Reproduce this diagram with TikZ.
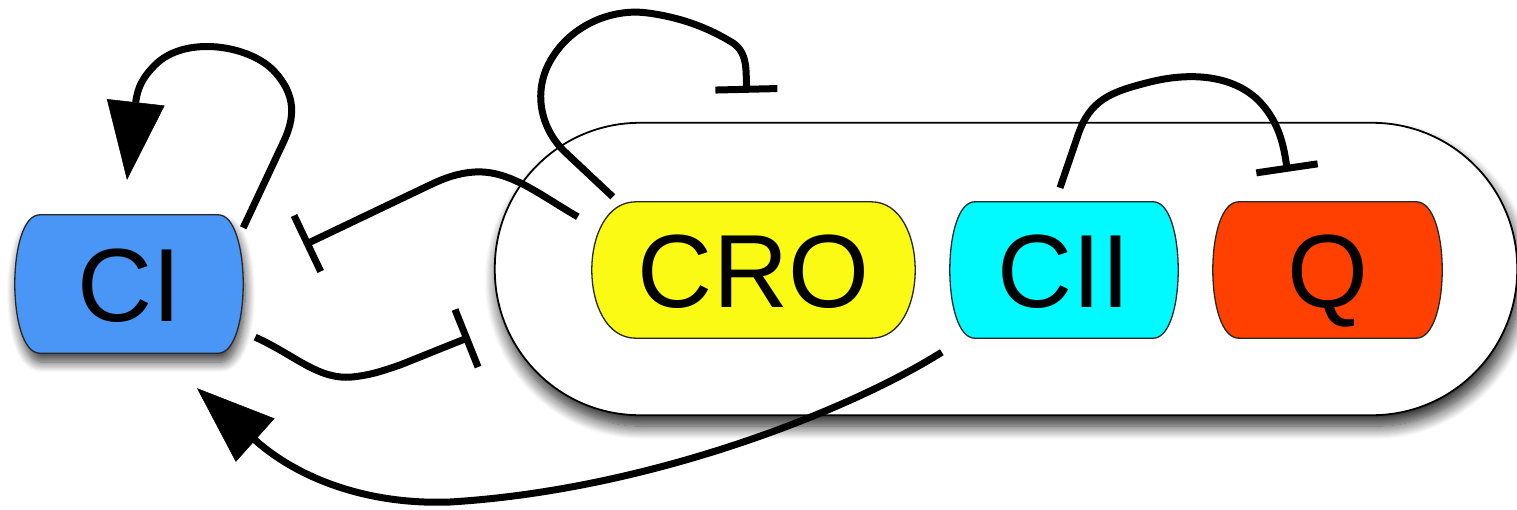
\documentclass[tikz,border=0pt]{standalone}
\usepackage{fontspec}
\setmainfont{Liberation Sans}
\usetikzlibrary{arrows.meta,shadows.blur}

\definecolor{ciblue}{RGB}{74,150,246}
\definecolor{croyellow}{RGB}{250,250,20}
\definecolor{ciicyan}{RGB}{0,250,255}
\definecolor{qred}{RGB}{255,64,0}
\definecolor{edgegray}{RGB}{40,40,40}

\pgfdeclarelayer{bg}
\pgfsetlayers{bg,main}

% Outline of a protein box: flat top and bottom, bulging sides.
% #1 node name, #2 corner inset, #3 path options
\newcommand\capsule[3]{%
  \path[#3] ([xshift=#2]#1.north west) -- ([xshift=-#2]#1.north east)
    .. controls ([xshift=#2/3]#1.north east) and ([xshift=#2/3]#1.south east) .. ([xshift=-#2]#1.south east)
    -- ([xshift=#2]#1.south west)
    .. controls ([xshift=-#2/3]#1.south west) and ([xshift=-#2/3]#1.north west) .. cycle;}

\tikzset{
  gene/.style={inner sep=0pt, minimum height=136pt, text height=74.5pt, text depth=0pt,
    font=\fontsize{104pt}{110pt}\selectfont},
  boxedge/.style={draw=edgegray, line width=1.3pt},
  act/.style={draw=black, line width=7pt,
    -{Triangle[length=78pt, width=58pt, line width=0.5pt, fill=black, color=black]}},
  inh/.style={draw=black, line width=7pt, -{Bar[width=62pt]}},
}

\begin{document}
\begin{tikzpicture}[x=1pt, y=-1pt]
\useasboundingbox (0,0) rectangle (1517,509);

% nodes
\node[inner sep=0pt, minimum width=1022pt, minimum height=292pt] (operon) at (1006,269) {};
\node[gene, minimum width=228pt, minimum height=138pt] (CI) at (129,284) {CI};
\node[gene, minimum width=323pt] (CRO) at (753.5,270) {CRO};
\node[gene, minimum width=228pt] (CII) at (1064,270) {CII};
\node[gene, minimum width=229pt] (Q) at (1327.5,270) {Q};

% shapes behind the labels
\begin{pgfonlayer}{bg}
  \path[fill=white, draw=black, line width=1.8pt, rounded corners=145pt,
        blur shadow={shadow xshift=3pt, shadow yshift=-11pt, shadow blur radius=13pt,
                     shadow blur steps=14, shadow opacity=85}]
    (operon.north west) rectangle (operon.south east);
  \capsule{CI}{25pt}{fill=ciblue, boxedge,
        blur shadow={shadow xshift=2pt, shadow yshift=-9pt, shadow blur radius=10pt,
                     shadow blur steps=12, shadow opacity=75}}
  \capsule{CRO}{44pt}{fill=croyellow, boxedge}
  \capsule{CII}{25pt}{fill=ciicyan, boxedge}
  \capsule{Q}{26pt}{fill=qred, boxedge}
\end{pgfonlayer}

% CI activates itself
\draw[act] ([shift={(0,13)}]CI.north east) -- (283,143)
  .. controls (295,118) and (297,95) .. (273,70)
  .. controls (248,45) and (185,35) .. (155,65)
  .. controls (142,78) and (138,88) .. (136,100)
  -- ([shift={(-2,-35)}]CI.north);

% CRO represses CI
\draw[inh] ([shift={(-14,15)}]CRO.north west)
  .. controls (540,195) and (510,170) .. (475,172)
  .. controls (458,173) and (445,178) .. (432,184)
  -- ([shift={(61,-39)}]CI.east);

% CI represses the operon
\draw[inh] ([shift={(12,-16)}]CI.south east)
  .. controls (295,355) and (318,380) .. (352,377)
  .. controls (372,375) and (385,370) .. (400,365)
  -- ([shift={(-25,68)}]operon.west);

% CII activates CI
\draw[act] ([shift={(-8,14)}]CII.south west)
  .. controls (850,410) and (650,490) .. (450,502)
  .. controls (370,505) and (300,480) .. (255,440)
  -- ([shift={(68,35)}]CI.south);

% CRO represses itself
\draw[inh] ([shift={(21,-5)}]CRO.north west) -- (565,152)
  .. controls (540,128) and (532,90) .. (552,58)
  .. controls (572,25) and (612,8) .. (648,13)
  .. controls (685,18) and (712,30) .. (733,43)
  .. controls (748,53) and (746,72) .. ([shift={(-7,-109)}]CRO.north);

% CII represses Q
\draw[inh] ([shift={(-4,-14)}]CII.north) -- (1078,135)
  .. controls (1090,100) and (1110,92) .. (1150,82)
  .. controls (1190,72) and (1232,75) .. (1258,100)
  .. controls (1280,122) and (1284,148) .. ([shift={(-40,-30)}]Q.north);
\end{tikzpicture}
\end{document}
